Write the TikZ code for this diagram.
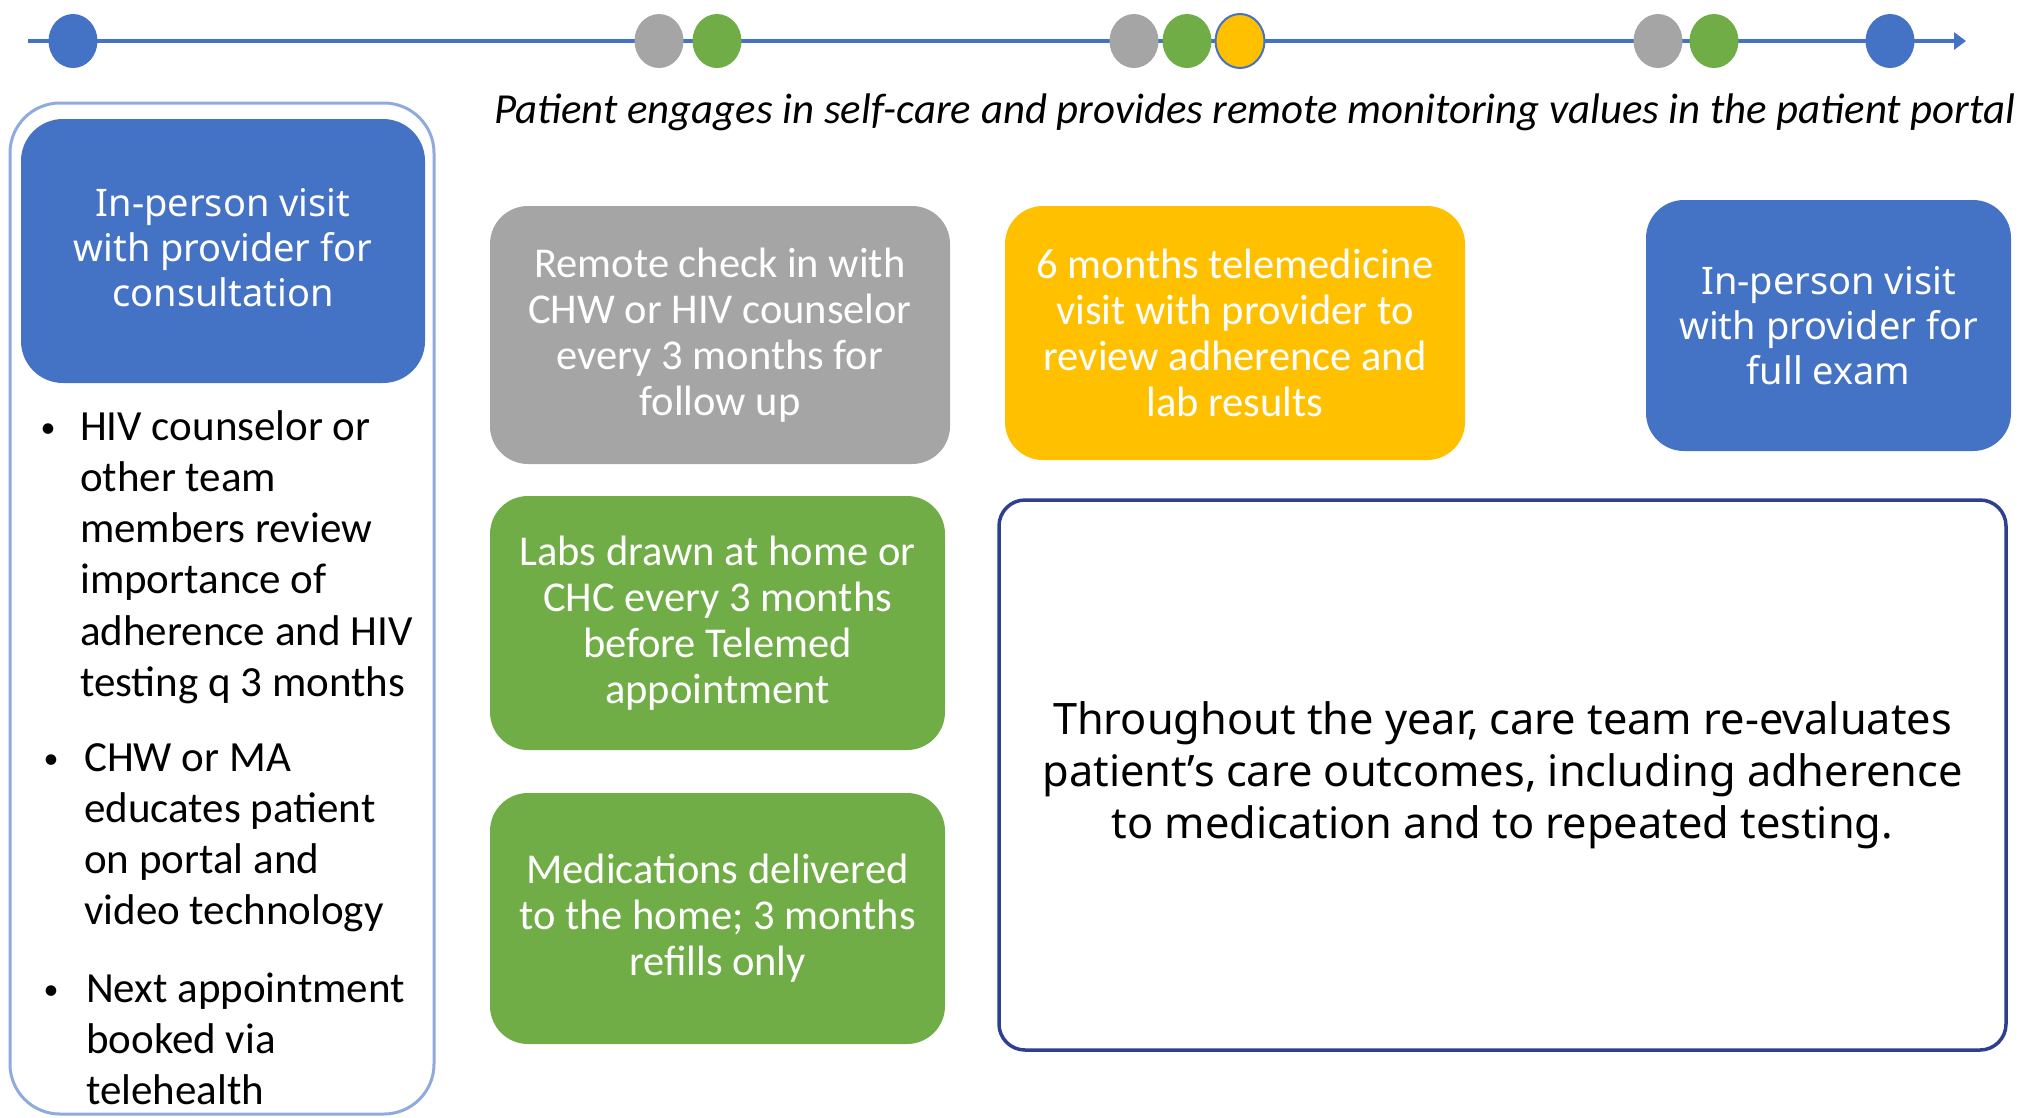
\documentclass[tikz,border=0pt]{standalone}
\usepackage{fontspec}
\setmainfont{Carlito}
\newfontfamily\notosans{Noto Sans}
\usetikzlibrary{shapes.geometric,arrows.meta}
\definecolor{cblue}{HTML}{4472C4}
\definecolor{cgray}{HTML}{A5A5A5}
\definecolor{cgreen}{HTML}{70AD47}
\definecolor{cyellow}{HTML}{FFC000}
\definecolor{lightedge}{HTML}{8FAADC}
\definecolor{navy}{HTML}{2E3F8F}
\begin{document}
\begin{tikzpicture}[x=1pt,y=-1pt,
  dot/.style={ellipse, minimum width=49pt, minimum height=54pt, inner sep=0pt},
  calbox/.style={rounded corners=38pt, inner sep=0pt, align=center, text=white,
    font=\fontsize{42.5}{46}\selectfont},
  bluebox/.style={rounded corners=42pt, inner sep=0pt, align=center, text=white, fill=cblue,
    font=\notosans\fontsize{38}{45}\selectfont},
  bluetext/.style={inner sep=0pt, align=center, text=white,
    font=\notosans\fontsize{38}{45}\selectfont},
  listtext/.style={anchor=base west, inner sep=0pt, font=\fontsize{43}{51.3}\selectfont},
  bulletmark/.style={anchor=base, inner sep=0pt, font=\fontsize{30}{36}\selectfont}
]
\useasboundingbox (0,0) rectangle (2021,1117);

% timeline
\coordinate (tlstart) at (28,41);
\coordinate (tlend) at (1966,41);
\draw[cblue, line width=3.5pt, -{Triangle[length=12pt,width=17pt]}] (tlstart) -- (tlend);
\node[dot, fill=cblue] (d1) at (73,41) {};
\node[dot, fill=cgray] (d2) at (659,41) {};
\node[dot, fill=cgreen] (d3) at (717,41) {};
\node[dot, fill=cgray] (d4) at (1134,41) {};
\node[dot, fill=cgreen] (d5) at (1187,41) {};
\node[dot, fill=cyellow, draw=cblue, line width=2pt] (d6) at (1240,41) {};
\node[dot, fill=cgray] (d7) at (1658,41) {};
\node[dot, fill=cgreen] (d8) at (1714,41) {};
\node[dot, fill=cblue] (d9) at (1890,41) {};

% header
\node[anchor=base west, inner sep=0pt, font=\itshape\fontsize{42.8}{48}\selectfont] (hdr) at (494,123)
  {Patient engages in self-care and provides remote monitoring values in the patient portal};

% left panel
\node[draw=lightedge, line width=3pt, rounded corners=50pt, minimum width=424pt, minimum height=1011pt, inner sep=0pt] (panel) at (222,608.5) {};
\node[bluebox, minimum width=404pt, minimum height=264pt] (consult) at (223,251) {};
\node[bluetext] (consulttext) at (223,248) {In-person visit\\with provider for\\consultation};

\node[bulletmark] (m1) at (48,437) {•};
\node[listtext] (l1) at (80,440) {\vtop{\hbox{HIV counselor or}\hbox{other team}\hbox{members review}\hbox{importance of}\hbox{adherence and HIV}\hbox{testing q 3 months}}};
\node[bulletmark] (m2) at (51,768) {•};
\node[listtext] (l2) at (84,771) {\vtop{\hbox{CHW or MA}\hbox{educates patient}\hbox{on portal and}\hbox{video technology}}};
\node[bulletmark] (m3) at (51,999) {•};
\node[listtext] (l3) at (86,1002) {\vtop{\hbox{Next appointment}\hbox{booked via}\hbox{telehealth}}};

% colored boxes
\node[calbox, fill=cgray, minimum width=460pt, minimum height=258pt] (remote) at (720,335)
  {Remote check in with\\CHW or HIV counselor\\every 3 months for\\follow up};
\node[calbox, fill=cyellow, minimum width=460pt, minimum height=254pt] (tele) at (1235,333)
  {6 months telemedicine\\visit with provider to\\review adherence and\\lab results};
\node[calbox, fill=cgreen, minimum width=455pt, minimum height=254pt] (labs) at (717.5,623)
  {Labs drawn at home or\\CHC every 3 months\\before Telemed\\appointment};
\node[calbox, fill=cgreen, minimum width=455pt, minimum height=251pt] (meds) at (717.5,918.5)
  {Medications delivered\\to the home; 3 months\\refills only};

\node[bluebox, minimum width=365pt, minimum height=251pt, rounded corners=38pt] (exam) at (1828.5,325.5)
  {In-person visit\\with provider for\\full exam};

\node[draw=navy, line width=3.5pt, rounded corners=26pt, minimum width=1007pt, minimum height=550pt,
  inner sep=0pt, align=center, font=\notosans\fontsize{43.3}{52}\selectfont] (eval) at (1502.5,775)
  {Throughout the year, care team re-evaluates\\patient’s care outcomes, including adherence\\to medication and to repeated testing.};
\end{tikzpicture}
\end{document}
